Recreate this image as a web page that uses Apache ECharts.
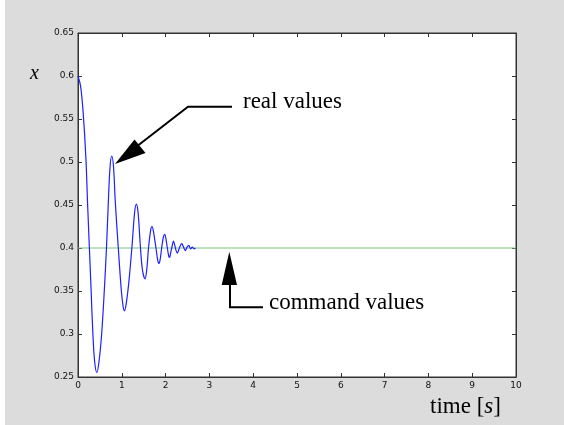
<!DOCTYPE html>
<html><head><meta charset="utf-8">
<script src="https://cdn.jsdelivr.net/npm/echarts@6/dist/echarts.min.js"></script>
<style>html,body{margin:0;padding:0;background:#fff}#c{width:564px;height:425px}</style>
</head><body><div id="c"></div>
<script>
const realTime = [0, 0.06, 0.12, 0.18, 0.22, 0.26, 0.30, 0.34, 0.38, 0.43, 0.48, 0.54, 0.60, 0.65, 0.69, 0.73, 0.77, 0.81, 0.85, 0.92, 0.99, 1.03, 1.06, 1.10, 1.16, 1.23, 1.29, 1.33, 1.37, 1.42, 1.47, 1.53, 1.57, 1.61, 1.66, 1.69, 1.72, 1.78, 1.82, 1.85, 1.88, 1.91, 1.95, 1.98, 2.01, 2.04, 2.07, 2.09, 2.11, 2.14, 2.18, 2.21, 2.24, 2.27, 2.30, 2.33, 2.37, 2.41, 2.45, 2.49, 2.53, 2.57, 2.61, 2.65, 2.68];
const realValue = [0.600, 0.588, 0.556, 0.505, 0.450, 0.400, 0.350, 0.300, 0.268, 0.255, 0.268, 0.300, 0.350, 0.400, 0.450, 0.493, 0.507, 0.495, 0.455, 0.400, 0.350, 0.332, 0.327, 0.335, 0.360, 0.400, 0.440, 0.451, 0.442, 0.405, 0.375, 0.364, 0.375, 0.400, 0.421, 0.425, 0.420, 0.400, 0.386, 0.382, 0.388, 0.400, 0.413, 0.416, 0.410, 0.400, 0.391, 0.389, 0.393, 0.400, 0.408, 0.403, 0.397, 0.394, 0.398, 0.402, 0.405, 0.401, 0.397, 0.401, 0.403, 0.399, 0.401, 0.399, 0.400];
// Command values
const commandTime = [0, 10];
const commandValue = [0.4, 0.4];
// Axis ranges
const xRange = [0, 10, 1];
const yRange = [0.25, 0.65, 0.05];

const chart = echarts.init(document.getElementById('c'), null, {renderer: 'canvas'});
const serif = "'Liberation Serif', 'Times New Roman', serif";
const tickFont = {fontSize: 9, color: '#111', fontFamily: 'DejaVu Sans'};
const axisCol = '#333';
function xAx(pos, lab) {
  return {type: 'value', min: xRange[0], max: xRange[1], interval: xRange[2], position: pos,
    axisLine: {show: true, onZero: false, lineStyle: {color: axisCol, width: 1}},
    axisTick: {show: true, inside: true, length: 4, lineStyle: {color: axisCol}},
    axisLabel: Object.assign({show: lab, margin: 4, showMinLabel: true, showMaxLabel: true}, tickFont),
    splitLine: {show: false}};
}
function yAx(pos, lab) {
  return {type: 'value', min: yRange[0], max: yRange[1], interval: yRange[2], position: pos,
    axisLine: {show: true, onZero: false, lineStyle: {color: axisCol, width: 1}},
    axisTick: {show: true, inside: true, length: 4, lineStyle: {color: axisCol}},
    axisLabel: Object.assign({show: lab, margin: 4, showMinLabel: true, showMaxLabel: true}, tickFont),
    splitLine: {show: false}};
}
chart.setOption({
  animation: false,
  backgroundColor: '#dcdcdc',
  grid: {left: 78, right: 48, top: 33, bottom: 48, show: true, backgroundColor: '#ffffff', borderColor: axisCol, borderWidth: 1},
  xAxis: [xAx('bottom', true), xAx('top', false)],
  yAxis: [yAx('left', true), yAx('right', false)],
  series: [
    {type: 'line', xAxisIndex: 0, yAxisIndex: 0, showSymbol: false, silent: true,
     data: commandTime.map((t, i) => [t, commandValue[i]]),
     lineStyle: {color: '#7cc47c', width: 1}},
    {type: 'line', xAxisIndex: 0, yAxisIndex: 0, showSymbol: false, silent: true, smooth: 0.35,
     data: realTime.map((t, i) => [t, realValue[i]]),
     lineStyle: {color: '#1f1fff', width: 1.2}}
  ],
  graphic: [
    {type: 'rect', shape: {x: 0, y: 0, width: 5, height: 425}, style: {fill: '#ffffff'}, silent: true},
    {type: 'text', x: 30, y: 74, style: {text: 'x', font: "italic 20px " + serif, fill: '#000', verticalAlign: 'middle'}},
    // real values annotation
    {type: 'polyline', shape: {points: [[232, 106.7], [188, 106.7], [136, 147]]}, style: {stroke: '#000', lineWidth: 2, fill: null}},
    {type: 'polygon', shape: {points: [[115, 164], [134.5, 139.5], [145.5, 153]]}, style: {fill: '#000'}},
    {type: 'text', x: 243, y: 102, style: {text: 'real values', font: "23px " + serif, fill: '#000', verticalAlign: 'middle'}},
    // command values annotation
    {type: 'polyline', shape: {points: [[230, 284], [230, 307.3], [263, 307.3]]}, style: {stroke: '#000', lineWidth: 2, fill: null}},
    {type: 'polygon', shape: {points: [[229.3, 251.7], [221.7, 285], [237, 285]]}, style: {fill: '#000'}},
    {type: 'text', x: 269, y: 303, style: {text: 'command values', font: "23px " + serif, fill: '#000', verticalAlign: 'middle'}},
    // axis title
    {type: 'text', x: 430, y: 407, style: {
      text: '{a|time [}{b|s}{a|]}', verticalAlign: 'middle',
      rich: {a: {fontFamily: serif, fontSize: 23, fill: '#000', color: '#000'},
             b: {fontFamily: serif, fontSize: 23, fontStyle: 'italic', fill: '#000', color: '#000'}}}}
  ]
});
</script></body></html>
